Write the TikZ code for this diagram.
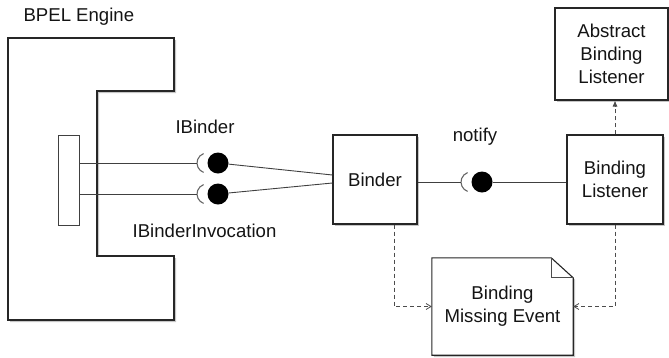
\documentclass[tikz,border=0pt]{standalone}
\usepackage{fontspec}
\setmainfont{Liberation Sans}
\usetikzlibrary{shadows,arrows.meta,calc}
\begin{document}
\begin{tikzpicture}[x=1pt,y=-1pt,
  every node/.style={font=\fontsize{18.6}{23}\selectfont, text=black!92},
  shad/.style={drop shadow={shadow xshift=2pt,shadow yshift=-2pt,fill=black!50,opacity=.45}},
  box/.style={draw=black!85,line width=1.1pt,fill=white,shad,align=center,inner sep=0pt},
  wire/.style={draw=black!75,line width=0.9pt},
  ball/.style={circle,fill=black,minimum size=21pt,inner sep=0pt},
  sock/.style={draw=black!60,line width=1.1pt},
  dep/.style={draw=black!70,line width=0.8pt,dash pattern=on 4pt off 3pt}
]
\useasboundingbox (0,0) rectangle (669,357);
% BPEL engine
\draw[draw=black!85,line width=1.1pt,fill=white,shad]
  (8,38) -- (174,38) -- (174,91) -- (97,91) -- (97,256) -- (174,256) -- (174,320) -- (8,320) -- cycle;
\node[anchor=west] (eng) at (20,17) {BPEL Engine};
\node[draw=black!75,line width=0.9pt,fill=white,minimum width=21pt,minimum height=90pt,inner sep=0pt] (port) at (68.5,180) {};

% balls and sockets
\node[ball] (b1) at (218,163) {};
\node[ball] (b2) at (218,194) {};
\node[ball] (b3) at (482,182) {};
\coordinate (s1) at (197,163);
\coordinate (s2) at (197,194);
\coordinate (s3) at (461,182);
\foreach \s in {s1,s2,s3}{
  \draw[sock] (\s) ++(10,0) ++(110:10) arc[start angle=110,end angle=250,radius=10];
}
\draw[wire] (port.east |- s1) -- (s1);
\draw[wire] (port.east |- s2) -- (s2);

\node[anchor=center] (ib) at (205,127) {IBinder};
\node[anchor=center] (ibi) at (204.5,231) {IBinderInvocation};
\node[anchor=center] (nt) at (475,137) {notify};

% boxes
\node[box,minimum width=84pt,minimum height=89pt] (binder) at (375,179.5) {Binder};
\node[box,minimum width=96pt,minimum height=89pt] (bl) at (615,179.5) {Binding\\Listener};
\node[box,minimum width=113pt,minimum height=92pt] (abl) at (611.5,54) {Abstract\\Binding\\Listener};

% note
\node[minimum width=141pt,minimum height=97pt,inner sep=0pt,align=center] (note) at (502.5,306.5) {};
\draw[draw=black!85,line width=1.1pt,fill=white,shad]
  (note.north west) -- ($(note.north east)+(-22,0)$) -- ($(note.north east)+(0,20)$) -- (note.south east) -- (note.south west) -- cycle;
\draw[draw=black!70,line width=0.9pt] ($(note.north east)+(-22,0)$) -- ($(note.north east)+(-22,20)$) -- ($(note.north east)+(0,20)$);
\node[align=center] (notetext) at (note.center) {Binding\\Missing Event};

% connectors
\draw[wire] (b1) -- ($(binder.west)+(0,-4.5)$);
\draw[wire] (b2) -- ($(binder.west)+(0,3.5)$);
\draw[wire] (binder.east |- s3) -- (s3);
\draw[wire] (b3) -- (bl.west |- b3);
\draw[dep,-{Latex[length=6pt,width=5pt]}] (bl.north) -- (bl.north |- abl.south);
\draw[dep,-{Straight Barb[length=5pt,width=6pt]}] ($(binder.south)+(19,0)$) |- (note.west);
\draw[dep,-{Straight Barb[length=5pt,width=6pt]}] (bl.south) |- (note.east);
\end{tikzpicture}
\end{document}
